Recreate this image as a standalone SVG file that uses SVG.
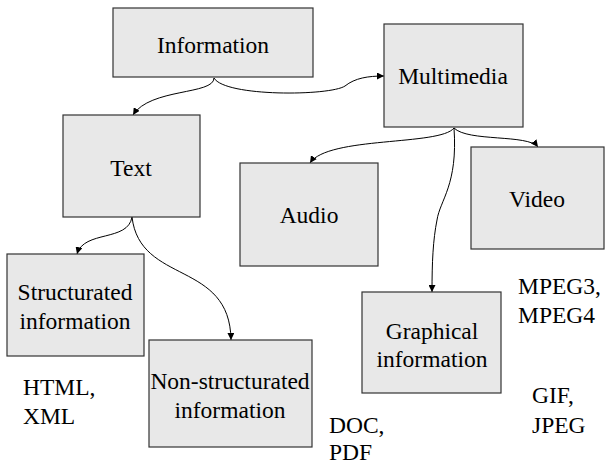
<svg xmlns="http://www.w3.org/2000/svg" width="605" height="464" viewBox="0 0 605 464">
  <style>
    .box { fill: #e8e8e8; stroke: #333333; stroke-width: 1.2; }
    .mid { text-anchor: middle; }
    .edge { fill: none; stroke: #000000; stroke-width: 1; marker-end: url(#arrow); }
  </style>
  <defs>
    <marker id="arrow" viewBox="0 0 10 10" refX="10" refY="5" markerWidth="7" markerHeight="7" markerUnits="userSpaceOnUse" orient="auto">
      <path d="M0,0 L10,5 L0,10 z" fill="#000000"/>
    </marker>
  </defs>
  <rect width="605" height="464" fill="#ffffff"/>

  <!-- connectors -->
  <g id="connectors">
    <path class="edge" d="M214,78 C214,95 150,88 133,115"/>
    <path class="edge" d="M214,78 C225,97 330,96 345,86 C355,78 368,76 384,76"/>
    <path class="edge" d="M454,128 C440,146 328,136 310,163"/>
    <path class="edge" d="M454,128 C468,142 528,134 538,147"/>
    <path class="edge" d="M454,128 C458,185 440,200 437,220 C433,240 432,262 432,292"/>
    <path class="edge" d="M132,217 C128,242 84,230 77,254"/>
    <path class="edge" d="M132,217 C140,285 230,260 231,340"/>
  </g>

  <!-- nodes and labels -->
  <g font-family="Liberation Serif" font-size="23.5" fill="#000000">
  <g id="information">
    <rect class="box" x="113" y="8" width="200" height="69"/>
    <text class="mid" x="213" y="53">Information</text>
  </g>
  <g id="multimedia">
    <rect class="box" x="384" y="24" width="139" height="103"/>
    <text class="mid" x="453" y="84">Multimedia</text>
  </g>
  <g id="text">
    <rect class="box" x="63" y="115" width="137" height="102"/>
    <text class="mid" x="131" y="176">Text</text>
  </g>
  <g id="audio">
    <rect class="box" x="240" y="163" width="138" height="103"/>
    <text class="mid" x="309" y="223">Audio</text>
  </g>
  <g id="video">
    <rect class="box" x="471" y="147" width="133" height="102"/>
    <text class="mid" x="537" y="207">Video</text>
  </g>
  <g id="structured">
    <rect class="box" x="7" y="254" width="137" height="102"/>
    <text class="mid" x="75" y="300">Structurated</text>
    <text class="mid" x="75" y="329">information</text>
  </g>
  <g id="non-structured">
    <rect class="box" x="149" y="340" width="163" height="107"/>
    <text class="mid" x="230" y="389">Non-structurated</text>
    <text class="mid" x="230" y="418">information</text>
  </g>
  <g id="graphical">
    <rect class="box" x="362" y="292" width="139" height="101"/>
    <text class="mid" x="432" y="339">Graphical</text>
    <text class="mid" x="432" y="367">information</text>
  </g>

  <!-- format notes -->
  <g id="notes">
    <text x="23" y="395">HTML,</text>
    <text x="23" y="424">XML</text>
    <text x="329" y="433">DOC,</text>
    <text x="329" y="460">PDF</text>
    <text x="518" y="294">MPEG3,</text>
    <text x="518" y="323">MPEG4</text>
    <text x="532" y="403">GIF,</text>
    <text x="532" y="433">JPEG</text>
  </g>
  </g>
</svg>
